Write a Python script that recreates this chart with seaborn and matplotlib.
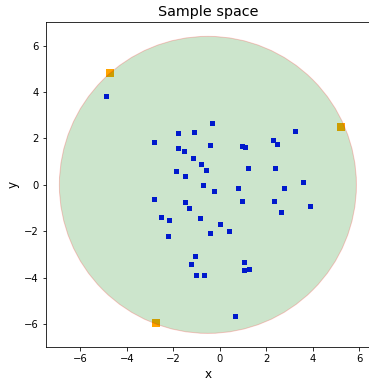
import matplotlib
matplotlib.use("Agg")
import matplotlib.pyplot as plt
import seaborn as sns
import pandas as pd

# punti campionati (blu)
sample_x = [-4.88, -0.33, -1.11, -1.80, -2.82, -1.80, -1.52, -0.42, 0.98, 1.08,
            2.30, 2.45, 3.24, -1.17, -0.82, -0.58, -1.87, -1.51, 1.21, 2.39,
            3.60, -0.70, -0.23, 0.78, 2.76, -2.82, -1.50, -1.31, 0.98, 2.34,
            3.91, 2.62, -2.55, -2.17, -0.86, -0.01, 0.39, -0.42, -2.24, -1.05,
            -1.25, 1.05, 1.06, 1.25, -1.01, -0.66, 0.66]
sample_y = [3.81, 2.68, 2.26, 2.23, 1.83, 1.61, 1.48, 1.70, 1.67, 1.65,
            1.94, 1.78, 2.34, 1.14, 0.92, 0.66, 0.59, 0.40, 0.72, 0.72,
            0.13, -0.01, -0.26, -0.13, -0.12, -0.60, -0.75, -1.01, -0.68, -0.68,
            -0.92, -1.19, -1.37, -1.50, -1.41, -1.70, -1.99, -2.09, -2.20, -3.08,
            -3.41, -3.32, -3.67, -3.63, -3.87, -3.90, -5.64]

# punti di supporto del cerchio (arancioni)
support_x = [-4.73, 5.21, -2.73]
support_y = [4.80, 2.49, -5.97]

# cerchio minimo
center = (-0.51, 0.0)
radius = 6.4

df = pd.DataFrame({'x': sample_x, 'y': sample_y})
df_sup = pd.DataFrame({'x': support_x, 'y': support_y})

fig = plt.figure(figsize=(369 / 72, 380 / 72), dpi=72)
ax = fig.add_axes([0.1238, 0.086, 0.8805, 0.855])

sns.scatterplot(data=df_sup, x='x', y='y', ax=ax, marker='s', s=64,
                color='orange', linewidth=0, zorder=1)
sns.scatterplot(data=df, x='x', y='y', ax=ax, marker='s', s=25,
                color='blue', linewidth=0, zorder=1)

circle = plt.Circle(center, radius, facecolor='green', edgecolor='red',
                    alpha=0.2, zorder=2)
ax.add_patch(circle)

ax.set_xlim(-7.5, 6.5)
ax.set_ylim(-7, 7)
ax.set_aspect('equal')
ax.set_xticks([-6, -4, -2, 0, 2, 4, 6])
ax.set_yticks([-6, -4, -2, 0, 2, 4, 6])
ax.tick_params(labelsize=10)
ax.set_title('Sample space', fontsize=14.4)
ax.set_xlabel('x', fontsize=12)
ax.set_ylabel('y', fontsize=12)

fig.savefig('out.png', dpi=72)
